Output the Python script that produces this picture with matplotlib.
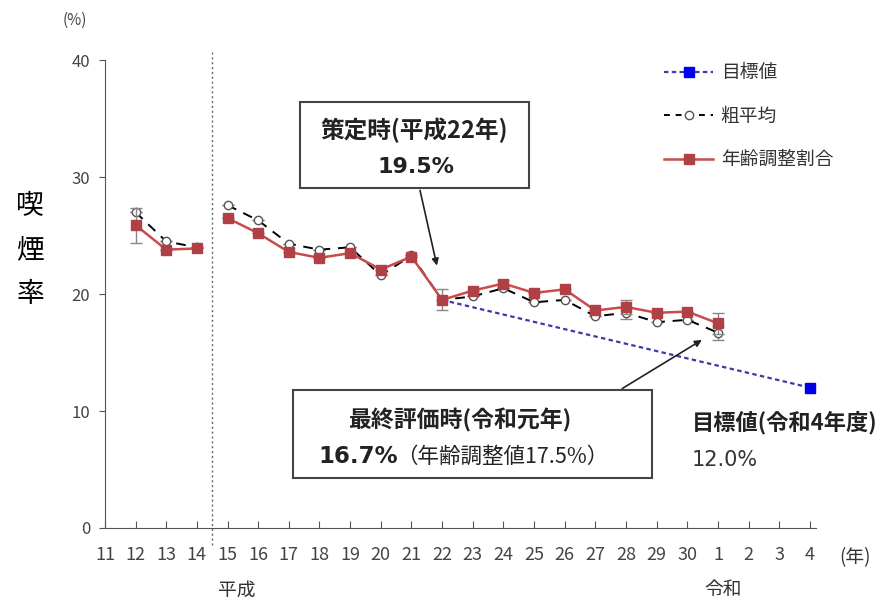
import matplotlib
matplotlib.use("Agg")
import matplotlib.pyplot as plt
import numpy as np
from matplotlib.patches import Rectangle
from matplotlib.lines import Line2D

plt.rcParams['font.family'] = ['Noto Sans CJK JP', 'DejaVu Sans']

# data
years = ['11', '12', '13', '14', '15', '16', '17', '18', '19', '20', '21', '22',
         '23', '24', '25', '26', '27', '28', '29', '30', '1', '2', '3', '4']
crude = [np.nan, 27.0, 24.5, 24.0, 27.6, 26.3, 24.3, 23.8, 24.0, 21.6, 23.3, 19.5,
         19.8, 20.5, 19.3, 19.5, 18.1, 18.4, 17.6, 17.8, 16.7, np.nan, np.nan, np.nan]
adjusted = [np.nan, 25.9, 23.8, 23.9, 26.5, 25.2, 23.6, 23.1, 23.5, 22.1, 23.2, 19.5,
            20.3, 20.9, 20.1, 20.4, 18.6, 18.9, 18.4, 18.5, 17.5, np.nan, np.nan, np.nan]
adjusted_err = [0, 1.5, 0, 0, 0, 0, 0, 0, 0, 0, 0, 0.9,
                0, 0.3, 0, 0, 0, 0.6, 0, 0, 0.9, 0, 0, 0]
crude_err = [0, 0, 0, 0, 0, 0, 0, 0, 0, 0, 0, 0,
             0, 0, 0, 0, 0, 0.5, 0, 0, 0.6, 0, 0, 0]
target_years = ['22', '4']
target_values = [19.5, 12.0]

x = np.arange(len(years))
crude = np.array(crude)
adjusted = np.array(adjusted)
adjusted_err = np.array(adjusted_err)
crude_err = np.array(crude_err)
tx = [years.index('22'), len(years) - 1]

fig = plt.figure(figsize=(8.89, 6.02), dpi=100)
ax = fig.add_axes([0.118, 0.123, 0.80, 0.777])

red = '#C94B4B'
mred = '#B04045'
blue_line = '#3B3BA8'
# the series break between H14 and H15
segments = [slice(1, 4), slice(4, 21)]
for s in segments:
    ax.errorbar(x[s], crude[s], yerr=crude_err[s], color='black', ls=(0, (5, 4)), lw=1.4,
                marker='o', ms=6, mfc='white', mec='#555555', mew=1,
                ecolor='#888888', elinewidth=1, capsize=4, zorder=3)
    ax.errorbar(x[s], adjusted[s], yerr=adjusted_err[s], color=red, lw=1.8,
                marker='s', ms=7, mfc=mred, mec=mred,
                ecolor='#888888', elinewidth=1, capsize=4, zorder=4)

ax.plot(tx, target_values, color=blue_line, ls=(0, (2, 1.5)), lw=1.6, zorder=2)
ax.plot(tx[1:], target_values[1:], ls='none', marker='s', ms=7, color='#0000EE', zorder=5)

# H/R era separator, runs a little past the axes like the original
ax.plot([3.5, 3.5], [-1.5, 40.8], color='#666666', ls=(0, (1.5, 2)), lw=1, clip_on=False)

ax.set_xlim(0, 23.2)
ax.set_ylim(0, 40)
ax.set_yticks([0, 10, 20, 30, 40])
ax.set_xticks(x)
ax.set_xticklabels(years)
for sp in ['top', 'right']:
    ax.spines[sp].set_visible(False)
for sp in ['left', 'bottom']:
    ax.spines[sp].set_color('#555555')
ax.tick_params(axis='y', direction='out', length=4.5, colors='#555555', labelsize=12, pad=6)
ax.tick_params(axis='x', direction='in', length=5, colors='#555555', labelsize=13, pad=13)
for lab in ax.get_xticklabels() + ax.get_yticklabels():
    lab.set_color('#444444')

# annotation boxes
ax.add_patch(Rectangle((6.35, 29.1), 7.5, 7.3, fill=False, ec='#444444', lw=1.5,
                       clip_on=False, zorder=6))
ax.text(10.1, 34.0, '策定時(平成22年)', ha='center', va='center', fontsize=17,
        fontweight='bold', color='#222222')
ax.text(10.15, 30.9, '19.5%', ha='center', va='center', fontsize=16,
        fontweight='bold', color='#222222', family='DejaVu Sans')
ax.annotate('', xy=(10.85, 22.2), xytext=(10.26, 29.1),
            arrowprops=dict(arrowstyle='-|>', color='#222222', lw=1.2))

ax.add_patch(Rectangle((6.12, 4.27), 11.73, 7.53, fill=False, ec='#444444', lw=1.5,
                       clip_on=False, zorder=6))
ax.text(11.56, 9.2, '最終評価時(令和元年)', ha='center', va='center', fontsize=16.5,
        fontweight='bold', color='#222222')
ax.text(6.95, 6.1, '16.7%', ha='left', va='center', fontsize=16.5,
        fontweight='bold', color='#222222', family='DejaVu Sans')
ax.text(9.5, 6.1, '（年齢調整値17.5%）', ha='left', va='center', fontsize=15.5,
        color='#222222')
ax.annotate('', xy=(19.55, 16.2), xytext=(16.8, 11.8),
            arrowprops=dict(arrowstyle='-|>', color='#222222', lw=1.2))

ax.text(19.15, 9.0, '目標値(令和4年度)', ha='left', va='center', fontsize=16,
        fontweight='bold', color='#222222')
ax.text(19.15, 5.8, '12.0%', ha='left', va='center', fontsize=15, color='#333333',
        family='DejaVu Sans')

handles = [
    Line2D([], [], color=blue_line, ls=(0, (2, 1.5)), lw=1.6, marker='s', ms=7,
           mfc='#0000EE', mec='#0000EE'),
    Line2D([], [], color='black', ls=(0, (3, 3)), lw=1.4, marker='o', ms=6,
           mfc='white', mec='#555555'),
    Line2D([], [], color=red, lw=1.8, marker='s', ms=7, mfc=mred, mec=mred),
]
ax.legend(handles, ['目標値', '粗平均', '年齢調整割合'],
          loc='upper left', bbox_to_anchor=(0.763, 1.032), frameon=False,
          fontsize=13.5, labelspacing=1.2, handlelength=2.6, handletextpad=0.4,
          labelcolor='#333333')

fig.text(75 / 889, 1 - 20 / 602, '(%)', ha='center', va='center', fontsize=11,
         color='#444444')
fig.text(30 / 889, 1 - 250 / 602, '喫\n煙\n率', ha='center', va='center', fontsize=20,
         linespacing=1.6, color='black')
fig.text(855 / 889, 1 - 558 / 602, '(年)', ha='center', va='center', fontsize=13.5,
         color='#333333')
fig.text(237 / 889, 1 - 590 / 602, '平成', ha='center', va='center', fontsize=13.5,
         color='#333333')
fig.text(723 / 889, 1 - 590 / 602, '令和', ha='center', va='center', fontsize=13.5,
         color='#333333')

fig.savefig('out.png', dpi=100)
